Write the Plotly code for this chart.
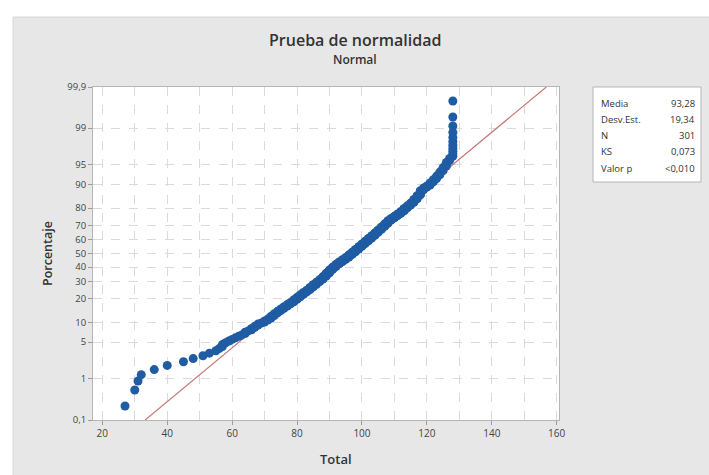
import plotly.graph_objects as go
from statistics import NormalDist

# ---- data ----
values = [27, 30, 31, 32, 36, 40, 45, 48, 51, 53, 55, 56, 57, 58, 59, 60, 61, 62, 63, 64,
          65, 66, 67, 68, 69, 70, 71, 72, 73, 74, 75, 76, 77, 78, 79, 80, 81, 82, 83, 84,
          85, 86, 87, 88, 89, 90, 91, 92, 93, 94, 95, 96, 97, 98, 99, 100, 101, 102, 103, 104,
          105, 106, 107, 108, 109, 110, 111, 112, 113, 114, 115, 116, 117, 118, 119, 120, 121, 122, 123, 124,
          125, 126, 127, 128]
counts = [1, 1, 1, 1, 1, 1, 1, 1, 1, 1, 1, 1, 2, 1, 1, 1, 1, 1, 1, 2,
          1, 2, 2, 2, 1, 2, 2, 3, 3, 3, 3, 3, 3, 3, 4, 4, 4, 4, 4, 5,
          5, 5, 5, 6, 7, 7, 6, 6, 5, 5, 5, 6, 6, 6, 6, 6, 6, 6, 6, 6,
          6, 6, 6, 6, 4, 4, 4, 4, 5, 4, 4, 5, 5, 6, 3, 2, 3, 3, 3, 3,
          3, 3, 2, 11]

fit_x = [33.2, 156.8]          # fitted line ends
fit_pct = [0.1, 99.9]

y_ticks_pct = [0.1, 1, 5, 10, 20, 30, 40, 50, 60, 70, 80, 90, 95, 99, 99.9]
y_tick_text = ["0,1", "1", "5", "10", "20", "30", "40", "50", "60", "70", "80", "90", "95", "99", "99,9"]
x_ticks = [20, 40, 60, 80, 100, 120, 140, 160]

stat_labels = ["Media", "Desv.Est.", "N", "KS", "Valor p"]
stat_values = ["93,28", "19,34", "301", "0,073", "<0,010"]

# ---- build ----
nd = NormalDist()
data = []
for v, c in zip(values, counts):
    data += [v] * c
n = len(data)
zs = [nd.inv_cdf((i - 0.3) / (n + 0.4)) for i in range(1, n + 1)]

W, H = 709, 475
L, R, T, B = 93, 150, 87, 55
PW, PH = W - L - R, H - T - B

def xp(px):
    return (px - L) / PW

def yp(py):
    return (H - B - py) / PH

fig = go.Figure()
fig.add_trace(go.Scatter(
    x=fit_x, y=[nd.inv_cdf(p / 100) for p in fit_pct], mode="lines",
    line=dict(color="#c87878", width=1.2), hoverinfo="skip", showlegend=False))
fig.add_trace(go.Scatter(
    x=data, y=zs, mode="markers",
    marker=dict(color="#1f5ca3", size=9, line=dict(width=0)), showlegend=False))

grid = "#dadada"
fig.update_xaxes(
    range=[17.13, 160.71], tickvals=x_ticks, ticks="outside", ticklen=4, tickcolor="#9a9a9a",
    showline=True, linecolor="#b5b5b5", mirror=True, zeroline=False,
    showgrid=True, gridcolor=grid, griddash="dash", gridwidth=1,
    minor=dict(dtick=10, tick0=0, showgrid=True, gridcolor=grid, griddash="dash", ticks=""),
    tickfont=dict(family="Open Sans", size=10, color="#444"))
fig.update_yaxes(
    range=[nd.inv_cdf(0.001), nd.inv_cdf(0.999)],
    tickvals=[nd.inv_cdf(p / 100) for p in y_ticks_pct], ticktext=y_tick_text,
    ticks="outside", ticklen=4, tickcolor="#9a9a9a",
    showline=True, linecolor="#b5b5b5", mirror=True, zeroline=False,
    showgrid=True, gridcolor=grid, griddash="dash", gridwidth=1,
    tickfont=dict(family="Open Sans", size=9.5, color="#444"))

shapes = [
    dict(type="rect", xref="paper", yref="paper", x0=xp(13), x1=xp(W + 5), y0=yp(H + 5), y1=yp(17),
         fillcolor="#e7e7e7", line=dict(color="#d8d8d8", width=1), layer="below"),
    dict(type="rect", xref="paper", yref="paper", x0=0, x1=1, y0=0, y1=1,
         fillcolor="white", line=dict(width=0), layer="below"),
    dict(type="rect", xref="paper", yref="paper", x0=xp(593), x1=xp(701), y0=yp(182), y1=yp(87),
         fillcolor="white", line=dict(color="#b5b5b5", width=1), layer="below"),
]

ann = [
    dict(text="Prueba de normalidad", x=xp(355), y=yp(40),
         font=dict(family="Open Sans", size=16, color="#333", weight=600)),
    dict(text="Normal", x=xp(355), y=yp(60), font=dict(family="Open Sans", size=12, color="#333", weight=600)),
    dict(text="Porcentaje", x=xp(47), y=yp(254), textangle=-90,
         font=dict(family="Open Sans", size=12.5, color="#333", weight=600)),
    dict(text="Total", x=xp(336), y=yp(459), font=dict(family="Open Sans", size=13, color="#333", weight=600)),
]
for a in ann:
    a.update(xref="paper", yref="paper", showarrow=False, xanchor="center", yanchor="middle")

row_y = [103, 119, 135, 151, 168]
for lab, val, ry in zip(stat_labels, stat_values, row_y):
    ann.append(dict(text=lab, x=xp(599), y=yp(ry), xref="paper", yref="paper", showarrow=False,
                    xanchor="left", yanchor="middle", font=dict(family="Open Sans", size=9.5, color="#333")))
    ann.append(dict(text=val, x=xp(697), y=yp(ry), xref="paper", yref="paper", showarrow=False,
                    xanchor="right", yanchor="middle", font=dict(family="Open Sans", size=9.5, color="#333")))

fig.update_layout(
    width=W, height=H, margin=dict(l=L, r=R, t=T, b=B),
    paper_bgcolor="white", plot_bgcolor="white",
    shapes=shapes, annotations=ann, showlegend=False)

fig.write_html("out.html")
